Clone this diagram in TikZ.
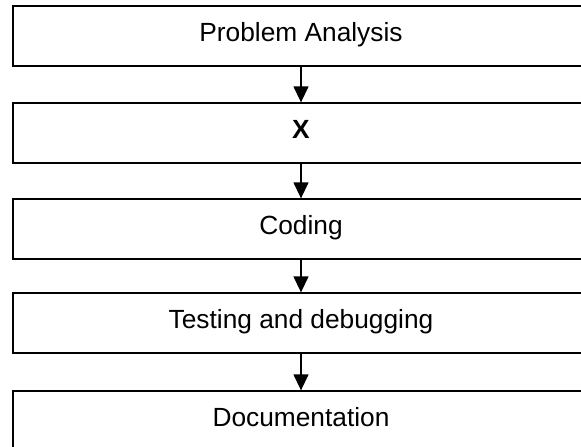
\documentclass[tikz,border=0pt]{standalone}
\usepackage{fontspec}
\setmainfont{Liberation Sans}
\usetikzlibrary{arrows.meta}
\tikzset{
  stagebox/.style={draw, line width=1.3pt, minimum width=576pt, minimum height=60pt, inner sep=0pt,
    text height=19pt, text depth=9pt, font=\fontsize{26.3}{30}\selectfont},
  stagearrow/.style={line width=1.3pt, -{Triangle[width=15pt,length=16pt]}}
}
\begin{document}
\begin{tikzpicture}[x=1pt,y=1pt,yscale=-1,xscale=1]
\useasboundingbox (0,0) rectangle (581,447); %set diagram to the reference size

%Shape: Rectangle [id:analysis]
\node [stagebox] (analysis) at (301,36) {Problem Analysis};
%Shape: Rectangle [id:design]
\node [stagebox] (design) at (301,133) {\textbf{X}};
%Shape: Rectangle [id:coding]
\node [stagebox] (coding) at (301,229) {Coding};
%Shape: Rectangle [id:testing]
\node [stagebox] (testing) at (301,323) {Testing and debugging};
%Shape: Rectangle [id:docs]
\node [stagebox] (docs) at (301,421) {Documentation};

%Straight Lines
\draw [stagearrow] (analysis) -- (design);
\draw [stagearrow] (design) -- (coding);
\draw [stagearrow] (coding) -- (testing);
\draw [stagearrow] (testing) -- (docs);

\end{tikzpicture}
\end{document}
